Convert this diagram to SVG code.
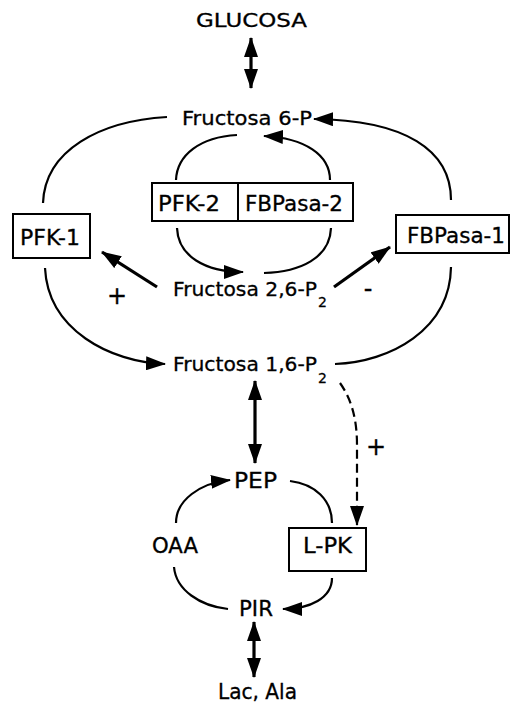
<svg xmlns="http://www.w3.org/2000/svg" width="511" height="703" viewBox="0 0 511 703">
<style>
text{font-family:"DejaVu Sans","Liberation Sans",Arial,sans-serif;font-size:20.5px;fill:#000;stroke:#000;stroke-width:0.3}
.f{font-size:19.5px}
.sub{font-size:14px}
.sign{font-size:24px}
.box{fill:#fff;stroke:#000;stroke-width:2}
.c{fill:none;stroke:#000;stroke-width:2.2}
.t{fill:none;stroke:#000;stroke-width:3.2}
.d{fill:none;stroke:#000;stroke-width:2.2;stroke-dasharray:9,5}
</style>
<defs>
<marker id="ah" markerUnits="userSpaceOnUse" viewBox="0 0 20 14" markerWidth="20" markerHeight="14" refX="19" refY="7" orient="auto-start-reverse">
<path d="M0,0 L20,7 L0,14 z" fill="#000"/>
</marker>
</defs>
<rect width="511" height="703" fill="#fff"/>
<g id="connectors">
<path class="t" d="M251,38 L251,88" marker-start="url(#ah)" marker-end="url(#ah)"/>
<path class="c" d="M167,117 C100,121 45,150 43,203"/>
<path class="c" d="M451,200 C451,150 405,120 314,119" marker-end="url(#ah)"/>
<path class="c" d="M237,135 C200,137 177,155 176,180"/>
<path class="c" d="M330,180 C330,155 305,138 264,136" marker-end="url(#ah)"/>
<path class="c" d="M177,228 C178,256 205,272 243,272" marker-end="url(#ah)"/>
<path class="c" d="M264,273 C300,272 330,258 331,228"/>
<path class="t" d="M157,287 L102,252" marker-end="url(#ah)"/>
<path class="t" d="M334,287 L390,247" marker-end="url(#ah)"/>
<path class="c" d="M45,268 C48,330 110,362 165,364" marker-end="url(#ah)"/>
<path class="c" d="M451,267 C450,330 390,362 335,364"/>
<path class="t" d="M255,381 L255,463" marker-start="url(#ah)" marker-end="url(#ah)"/>
<path class="d" d="M340,383 C352,400 357,420 357,445 L357,525" marker-end="url(#ah)"/>
<path class="c" d="M176,523 C176,500 200,483 230,480" marker-end="url(#ah)"/>
<path class="c" d="M290,481 C315,484 332,500 332,523"/>
<path class="c" d="M174,567 C176,590 200,606 228,609"/>
<path class="c" d="M332,578 C332,598 310,609 283,609" marker-end="url(#ah)"/>
<path class="t" d="M254,622 L254,677" marker-start="url(#ah)" marker-end="url(#ah)"/>
</g>
<g id="glucosa"><text class="f" x="196" y="27" textLength="111" lengthAdjust="spacingAndGlyphs">GLUCOSA</text></g>
<g id="f6p"><text class="f" x="182" y="125" textLength="130" lengthAdjust="spacingAndGlyphs">Fructosa 6-P</text></g>
<g id="pfk2-fbpasa2">
<rect class="box" x="152" y="183" width="201" height="38"/>
<line x1="238" y1="183" x2="238" y2="221" stroke="#000" stroke-width="2"/>
<text x="158" y="211" textLength="62" lengthAdjust="spacingAndGlyphs">PFK-2</text>
<text x="245" y="211" textLength="98" lengthAdjust="spacingAndGlyphs">FBPasa-2</text>
</g>
<g id="pfk1">
<rect class="box" x="13" y="214" width="77" height="44"/>
<text x="20" y="245" textLength="60" lengthAdjust="spacingAndGlyphs">PFK-1</text>
</g>
<g id="fbpasa1">
<rect class="box" x="396" y="215" width="113" height="38"/>
<text x="407" y="243" textLength="98" lengthAdjust="spacingAndGlyphs">FBPasa-1</text>
</g>
<g id="f26p2">
<text class="f" x="173" y="296" textLength="144" lengthAdjust="spacingAndGlyphs">Fructosa 2,6-P</text>
<text class="sub" x="318" y="307">2</text>
</g>
<g id="f16p2">
<text class="f" x="173" y="371" textLength="144" lengthAdjust="spacingAndGlyphs">Fructosa 1,6-P</text>
<text class="sub" x="318" y="383">2</text>
</g>
<g id="signs">
<text class="sign" x="117" y="304" text-anchor="middle">+</text>
<text class="sign" x="368" y="297" text-anchor="middle">-</text>
<text class="sign" x="376" y="455" text-anchor="middle">+</text>
</g>
<g id="pep"><text x="234" y="488" textLength="43" lengthAdjust="spacingAndGlyphs">PEP</text></g>
<g id="oaa"><text x="152" y="553" textLength="46" lengthAdjust="spacingAndGlyphs">OAA</text></g>
<g id="lpk">
<rect class="box" x="289" y="528" width="77" height="43"/>
<text x="303" y="553" textLength="49" lengthAdjust="spacingAndGlyphs">L-PK</text>
</g>
<g id="pir"><text x="239" y="616" textLength="34" lengthAdjust="spacingAndGlyphs">PIR</text></g>
<g id="lacala"><text x="218" y="699" textLength="79" lengthAdjust="spacingAndGlyphs">Lac, Ala</text></g>
</svg>
